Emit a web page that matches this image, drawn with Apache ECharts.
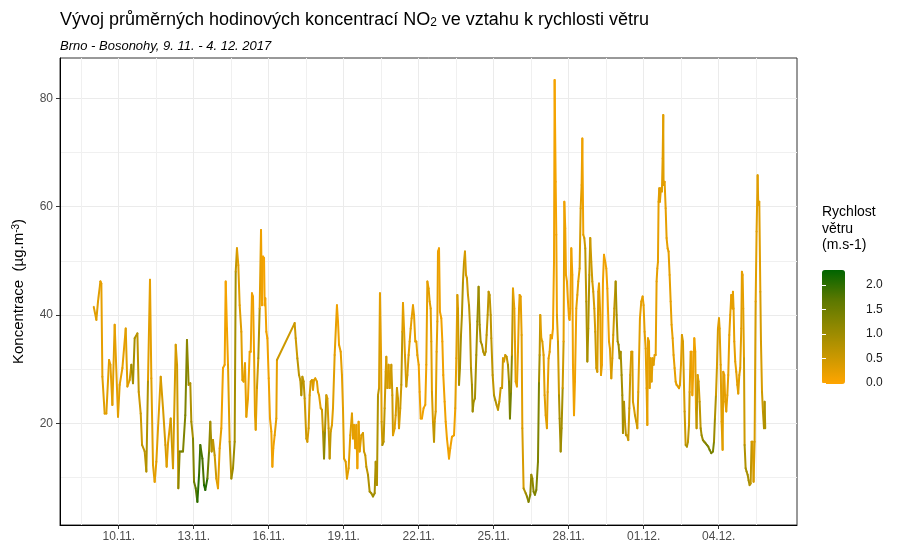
<!DOCTYPE html>
<html><head><meta charset="utf-8">
<script src="https://cdn.jsdelivr.net/npm/echarts@6/dist/echarts.min.js"></script>
<style>html,body{margin:0;padding:0;background:#fff}#c{width:900px;height:550px}</style>
</head><body><div id="c"></div><script>
// hours since 9. 11. 2017 00:00
const startUTC = Date.UTC(2017, 10, 9);
const hours = [
0,2.5,4.1,6.4,7.3,8.3,10.5,12.1,14.7,16,
17.9,20.1,23.3,24.9,27.5,30.7,32.3,34.5,36.1,37.7,
39.3,41.9,43.2,45.1,46.4,48.9,50.5,52.1,54,55.3,
56.9,58.5,60.1,61.7,64.3,66.5,68.8,70,71.3,73.9,
76.1,
78.7,80,81.2,82.5,84.1,85.7,87.9,89.5,91.1,92.7,
93.7,95.3,96.3,97.9,99.5,101.1,102.3,104.3,105.9,107.1,
109.1,110.7,111.9,113.2,114.5,116.1,117.7,119.3,120.9,122.5,
124.1,125.7,126.7,127.9,128.9,130.5,132.1,133.7,135.3,136.3,
137.5,138.8,140.1,141.7,142.7,143.9,145.2,146.5,148.1,149.7,
150.7,151.9,152.9,153.9,154.8,155.5,156.7,158,
159.3,160.6,161.5,162.5,163.5,164.1,164.7,165.7,166.7,168,
169.2,170.5,171.5,172.4,173.7,175.3,175.9,192.9,193.9,195.5,
197.1,198.3,199.3,200.3,201.5,202.5,204.1,205.1,206.3,207.3,
208.3,209.5,210.5,211.5,212.7,214.3,215.3,216.3,217.9,219.1,
220.1,221.1,222,223.3,224.3,225.5,226.5,227.5,228.7,229.7,
231.3,232.6,233.5,234.5,235.5,237.1,238.3,239.3,
240.3,241.9,243.1,244.7,246.3,247.9,248.9,249.9,251.1,252.1,
253.1,254.3,255.3,256.9,258.5,259.5,260.7,261.7,263.3,264.9,
266.5,268.1,269.7,270.7,271.9,272.9,273.9,274.8,275.8,276.4,
277.1,278.3,279.3,280.3,280.9,281.9,283.1,284.1,285.7,286.7,
287.3,288.9,289.9,291.1,292.1,293.1,294.3,295.3,296.3,296.9,
297.9,298.8,300.1,301.1,302.3,303.3,304.3,305.2,306.5,307.5,
308.7,309.7,310.7,312,312.9,313.9,315.1,316.7,318.3,319.3,
320.3,321.5,322.5,
323.5,324.1,324.7,325.7,326.7,327.3,328.3,329.2,329.9,330.5,
331.5,332.4,333.7,334.7,335.6,336.9,337.9,339.1,340.1,341.1,
342.3,343.9,345.9,347.1,348.1,349.1,349.7,350.7,351.6,352.6,
353.5,354.5,355.5,356.4,357.4,358.3,359.3,360.3,361.2,362.2,
363.1,363.8,364.7,366,367.3,368.3,369.5,370.5,371.5,372.7,
374,375.3,376.3,377.2,378.2,379.1,380.1,381.1,381.7,383,
384.3,385.5,386.8,388.1,389.4,390.7,392,392.9,393.9,395.1,
396.4,397.7,398.7,399.6,400.6,401.5,402.5,
403.8,404.4,405.1,406.3,407.3,408.3,408.9,409.9,410.8,411.5,
412.7,414.7,415.9,417.5,419.1,420.1,421.1,422.3,423.6,424.9,
426.5,427.5,428.1,428.7,429.7,430.7,431.9,432.9,433.9,435.1,
435.8,436.7,437.7,438.7,439.9,440.9,441.9,442.5,443.5,444.1,
444.7,445.7,446.7,447.3,448.3,449.2,450.2,451.1,451.8,452.7,
453.4,454.3,455.3,456.3,456.9,457.5,458.5,459.5,460.1,461.1,
462,463.3,464.3,465.2,466.5,467.5,468.4,469.1,470,471,
471.9,472.9,473.9,474.8,475.8,476.7,477.7,478.7,479.6,480.6,
481.5,482.5,483.5,484.4,485.1,
486.3,487,487.9,488.9,489.9,491.1,492.1,493.1,493.7,494.7,
495.6,496.9,497.9,498.8,499.8,501.1,502,503,503.9,504.9,
505.9,506.8,507.5,508.1,509.1,510,511,512,513.2,514.2,
515.1,516.1,517.1,517.7,518.7,519.6,520.9,521.9,522.8,523.5,
524.4,525.7,527,527.9,528.9,529.9,530.8,531.5,532.1,533.1,
533.7,534.7,535.6,536.6,537.5,538.5,539.5,540.4,541.1,541.7,
542.3,543,543.6,544.6,545.5,546.2,546.8,547.1,548.1,549.1,
550,551,551.9,552.9,553.9,554.8,555.8,556.7,557.7,558.7,
559.6,560.9,561.9,562.8,563.8,564.7,565.7,
567.3,568.3,569.5,570.5,571.5,572.1,573.1,574,574.7,575.6,
576.6,577.5,578.2,578.8,579.8,580.7,581.7,582.7,583.6,584.9,
586.2,587.5,588.7,590,591.3,592.9,594.5,595.5,596.4,597.4,
598.3,599.3,600.3,600.9,601.9,602.8,603.8,604.4,605.4,606.3,
607.3,608.3,609.2,610.2,611.1,612.1,613.1,613.7,614.3,615,
615.9,616.9,617.9,618.8,619.8,620.7,621.7,622.3,623,623.6,
624.3,624.9,625.9,626.8,627.8,628.7,629.7,630.7,631.6,632.6,
633.5,634.5,635.5,636.4,637.4,638,639,640,640.6,641.6,
642.5,643.5,644.1,644.7
];
const no2 = [
41.5,39.1,42.5,46.2,45.8,28.6,21.8,21.8,31.7,30.8,
23.4,38.2,21.2,27.1,30.2,37.5,26.8,28.0,30.8,27.4,
35.7,36.6,25.8,21.8,16.0,14.8,11.1,28.0,46.5,28.3,
12.3,9.2,12.9,19.1,28.6,22.8,16.0,12.0,16.3,20.9,
11.7,
34.5,30.8,8.0,14.8,14.8,14.8,21.5,35.4,27.1,27.4,
20.3,17.2,9.2,8.0,5.5,10.5,16.0,13.5,8.6,7.7,
9.8,14.8,20.3,14.8,16.9,14.1,9.8,8.0,15.4,19.1,
30.2,30.8,46.2,37.5,30.8,16.6,9.8,11.7,16.6,48.0,
52.3,49.2,41.8,36.9,28.0,27.7,31.1,21.2,24.6,33.2,
33.2,44.0,43.4,33.2,21.5,18.8,26.5,32.0,
41.2,55.7,41.8,50.8,50.5,41.8,43.1,36.9,35.7,28.3,
20.9,18.5,12.0,15.4,17.8,20.9,31.7,38.5,35.7,32.0,
28.9,28.0,25.2,28.6,27.7,24.6,17.2,16.6,19.1,25.2,
27.7,28.0,26.2,28.0,28.3,27.7,25.8,25.2,22.8,22.5,
18.5,13.5,18.5,25.2,24.6,19.1,13.5,18.5,19.7,22.8,
32.6,38.2,41.8,38.8,34.5,33.2,28.9,22.8,
13.5,12.9,9.8,11.7,17.8,21.8,17.2,19.7,15.4,19.7,
11.7,20.3,14.8,17.8,18.2,14.8,14.1,12.0,10.5,7.4,
7.1,6.5,7.1,12.9,8.6,25.2,26.5,44.0,33.2,20.3,
16.0,16.6,22.8,29.5,32.3,26.5,30.8,26.5,30.8,25.2,
17.8,19.1,21.5,26.5,24.6,19.1,22.8,27.1,36.9,42.2,
37.5,32.6,26.8,28.9,32.6,35.1,37.5,39.4,41.8,40.0,
35.1,35.1,32.6,30.8,25.8,20.9,20.9,22.8,23.4,30.8,
46.2,44.9,42.5,
41.2,35.1,25.8,20.3,16.6,20.3,22.2,33.2,38.8,51.7,
52.3,40.6,39.4,35.1,28.9,24.0,20.3,17.2,15.4,13.5,
15.4,17.5,17.8,22.8,32.0,43.7,41.2,27.1,30.2,36.3,
40.0,46.2,49.8,51.7,47.4,46.8,43.7,41.8,38.2,30.2,
27.1,22.2,24.0,24.6,32.6,38.8,45.2,38.2,35.1,34.5,
33.2,32.6,33.2,36.3,40.0,44.3,43.7,40.0,35.7,28.9,
25.2,24.3,23.4,22.5,24.0,26.5,26.5,32.0,31.4,32.6,
32.3,30.8,27.7,20.9,25.8,32.6,44.9,
41.2,35.1,27.7,26.8,33.2,41.2,43.7,43.4,36.3,19.1,
8.0,7.1,6.5,5.5,6.8,10.5,9.8,7.4,6.8,7.7,
12.9,27.7,32.6,40.0,35.7,35.1,32.6,25.2,21.5,19.1,
25.8,32.0,33.2,36.3,35.7,37.5,49.8,83.4,64.6,54.8,
40.0,35.1,25.2,20.9,14.8,19.1,26.5,35.1,60.9,56.0,
47.4,46.2,42.5,39.4,39.1,41.2,52.3,47.4,30.8,21.5,
27.7,41.2,43.7,46.2,48.6,59.7,64.0,72.6,54.8,54.2,
52.3,42.5,31.4,37.5,47.4,54.2,49.8,46.2,44.3,41.2,
36.9,30.2,29.5,44.3,45.8,
40.0,28.9,30.8,46.2,51.1,49.8,48.6,44.9,41.2,35.1,
33.8,28.3,32.0,36.3,41.2,46.2,40.0,35.1,34.5,32.0,
33.2,28.9,25.2,18.2,24.0,20.3,17.8,17.8,16.9,22.8,
28.9,33.2,33.2,24.0,22.8,21.5,20.3,19.1,25.8,31.4,
39.4,42.5,43.4,41.8,36.9,33.8,26.5,19.7,35.7,35.1,
26.5,32.0,27.7,32.0,30.8,32.6,32.6,46.2,48.6,49.8,
60.9,63.4,60.9,63.4,62.8,68.9,76.9,64.0,64.6,59.7,
54.2,52.3,51.7,47.4,42.5,38.2,35.7,32.6,30.2,27.7,
27.1,26.8,26.5,27.1,30.8,36.3,35.1,
22.2,16.0,15.7,16.6,19.7,25.8,33.2,33.2,25.2,29.5,
35.7,33.2,22.8,19.1,28.9,27.7,24.0,19.1,17.8,16.9,
16.6,16.3,16.0,15.7,15.1,14.5,14.8,16.6,20.9,25.2,
30.2,37.5,39.4,37.5,30.8,20.3,15.1,29.5,28.9,24.0,
22.2,25.2,28.9,36.3,40.0,43.7,41.2,44.3,41.2,35.1,
31.4,29.5,27.1,25.5,28.9,30.2,37.5,48.0,47.4,41.2,
32.0,16.0,11.7,11.1,10.5,9.5,8.6,8.9,16.6,16.6,
9.2,16.6,42.5,55.4,65.8,60.3,60.9,44.3,35.1,25.8,
22.2,19.1,24.0,19.1
];
const wind = [
0.3,0.3,0.3,0.25,0.25,0.3,0.3,0.3,0.25,0.25,
0.3,0.25,0.3,0.25,0.25,0.3,0.3,0.5,1.0,0.9,
0.8,0.65,0.5,0.5,0.65,0.65,0.8,0.3,0.25,0.3,
0.3,0.25,0.3,0.3,0.4,0.4,0.4,0.3,0.3,0.5,
0.4,
0.4,0.5,1.15,1.4,1.4,1.3,1.3,1.15,0.8,0.8,
0.9,1.3,1.5,1.7,2.0,1.9,1.8,1.8,2.1,2.0,
1.5,1.15,0.9,0.65,0.65,0.5,0.3,0.25,0.25,0.15,
0.15,0.15,0.1,0.15,0.3,0.65,1.0,1.0,0.9,0.65,
0.3,0.3,0.3,0.3,0.3,0.25,0.25,0.25,0.15,0.15,
0.15,0.15,0.15,0.25,0.25,0.3,0.5,0.8,
0.3,0.15,0.15,0.1,0.1,0.15,0.15,0.15,0.15,0.15,
0.15,0.15,0.15,0.15,0.25,0.25,0.5,0.5,0.5,0.65,
0.65,0.65,0.8,0.65,0.65,0.5,0.5,0.4,0.4,0.4,
0.4,0.4,0.3,0.3,0.3,0.3,0.3,0.3,0.4,0.5,
0.8,1.15,0.8,0.4,0.4,0.5,0.65,0.4,0.3,0.3,
0.25,0.25,0.15,0.15,0.25,0.25,0.25,0.3,
0.3,0.3,0.3,0.3,0.3,0.3,0.25,0.25,0.25,0.25,
0.15,0.25,0.3,0.4,0.4,0.5,0.5,0.65,0.8,0.9,
0.9,1.0,0.9,0.8,0.8,0.65,0.4,0.25,0.3,0.5,
0.8,0.65,0.5,0.4,0.4,0.4,0.4,0.4,0.5,0.5,
0.3,0.3,0.4,0.5,0.5,0.4,0.5,0.65,0.4,0.25,
0.3,0.4,0.5,0.4,0.3,0.3,0.25,0.25,0.25,0.25,
0.25,0.25,0.25,0.15,0.15,0.15,0.15,0.15,0.15,0.25,
0.25,0.3,0.3,
0.3,0.3,0.4,0.5,0.65,0.4,0.3,0.25,0.25,0.15,
0.15,0.15,0.15,0.15,0.15,0.15,0.15,0.15,0.15,0.15,
0.15,0.15,0.15,0.25,0.3,0.4,0.5,0.9,0.9,0.8,
0.8,0.65,0.5,0.4,0.4,0.5,0.5,0.65,0.65,0.8,
0.9,1.0,0.9,0.9,0.9,1.0,1.0,0.9,0.9,0.8,
0.8,0.8,0.65,0.65,0.65,0.65,0.65,0.65,0.65,0.65,
0.8,0.8,0.65,0.65,0.5,0.5,0.5,0.4,0.4,0.5,
0.65,0.9,1.15,1.4,1.15,0.65,0.25,
0.25,0.25,0.25,0.25,0.25,0.25,0.25,0.25,0.3,0.4,
0.8,1.0,1.15,1.3,1.15,1.0,1.15,1.3,1.3,1.3,
1.3,0.9,0.65,0.3,0.3,0.3,0.3,0.3,0.3,0.3,
0.25,0.25,0.25,0.15,0.15,0.15,0.15,0.1,0.1,0.15,
0.3,0.5,0.8,0.9,1.0,0.9,0.5,0.25,0.15,0.15,
0.15,0.15,0.15,0.15,0.15,0.15,0.15,0.15,0.15,0.15,
0.15,0.25,0.3,0.3,0.4,0.3,0.25,0.15,0.3,0.5,
0.65,0.8,0.9,0.8,0.65,0.5,0.5,0.4,0.4,0.4,
0.5,0.5,0.4,0.25,0.25,
0.25,0.25,0.15,0.15,0.15,0.15,0.15,0.15,0.15,0.25,
0.3,0.4,0.4,0.5,0.65,0.9,0.9,0.9,1.0,1.0,
0.9,0.9,0.9,0.9,0.8,0.65,0.65,0.65,0.5,0.5,
0.4,0.4,0.4,0.4,0.4,0.5,0.5,0.4,0.3,0.3,
0.25,0.25,0.25,0.25,0.25,0.25,0.25,0.25,0.25,0.25,
0.3,0.3,0.3,0.3,0.3,0.25,0.25,0.25,0.25,0.25,
0.3,0.3,0.3,0.3,0.3,0.3,0.3,0.3,0.25,0.25,
0.25,0.25,0.25,0.25,0.25,0.25,0.25,0.25,0.25,0.25,
0.25,0.3,0.3,0.3,0.3,0.4,0.4,
0.5,0.8,0.8,0.65,0.5,0.3,0.15,0.15,0.15,0.15,
0.15,0.25,0.4,0.65,0.3,0.4,0.65,0.9,1.0,1.15,
1.15,1.3,1.3,1.3,1.4,1.4,1.3,1.0,0.8,0.5,
0.4,0.3,0.3,0.3,0.3,0.3,0.3,0.25,0.25,0.25,
0.25,0.25,0.25,0.25,0.25,0.25,0.25,0.25,0.25,0.25,
0.25,0.25,0.3,0.3,0.3,0.3,0.3,0.25,0.25,0.3,
0.5,0.8,0.9,0.9,0.9,0.9,0.8,0.65,0.4,0.4,
0.4,0.4,0.3,0.3,0.3,0.3,0.3,0.4,0.4,0.5,
0.65,0.8,0.8,0.8
];
const xTickLabels = ['10.11.','13.11.','16.11.','19.11.','22.11.','25.11.','28.11.','01.12.','04.12.'];
const yTicks = [20, 40, 60, 80];
const yMinorTicks = [10, 30, 50, 70];
const windTicks = [0, 0.5, 1, 1.5, 2];

const FONT = 'Liberation Sans, Arial, sans-serif';
function labelToHour(lbl) {
  const p = lbl.split('.');
  return (Date.UTC(2017, +p[1] - 1, +p[0]) - startUTC) / 3600000;
}
const xTickHours = xTickLabels.map(labelToHour);
const xMinorHours = [xTickHours[0] - 36].concat(xTickHours.map(h => h + 36));

const segData = hours.map((h, i) => {
  const j = Math.min(i + 1, hours.length - 1);
  return [h, no2[i], wind[i], hours[j], no2[j]];
});

const chart = echarts.init(document.getElementById('c'), null, {renderer: 'canvas'});
const xMin = -32.4, xMax = 675.2, yMin = 1.23, yMax = 87.44;
chart.setOption({
  animation: false,
  backgroundColor: '#fff',
  textStyle: {fontFamily: FONT},
  title: [
    {left: 55, top: 6, text: 'Vývoj průměrných hodinových koncentrací NO{sub|2} ve vztahu k rychlosti větru',
     textStyle: {fontFamily: FONT, fontSize: 18, fontWeight: 'normal', color: '#000',
       rich: {sub: {fontFamily: FONT, fontSize: 12, color: '#000', verticalAlign: 'bottom', lineHeight: 12}}}},
    {left: 55, top: 35, text: 'Brno - Bosonohy, 9. 11. - 4. 12. 2017',
     textStyle: {fontFamily: FONT, fontSize: 13, fontStyle: 'italic', fontWeight: 'normal', color: '#000'}},
    {left: 817, top: 199, text: 'Rychlost\nvětru\n(m.s-1)',
     textStyle: {fontFamily: FONT, fontSize: 14, lineHeight: 16.5, fontWeight: 'normal', color: '#000'}}
  ],
  grid: [
    {left: 60, right: 103, top: 58, bottom: 25, show: true, borderColor: '#333', borderWidth: 1},
    {left: 822, top: 275, width: 23, height: 108}
  ],
  xAxis: [
    {type: 'value', gridIndex: 0, min: xMin, max: xMax,
     axisLine: {show: true, onZero: false, lineStyle: {color: '#000', width: 1}},
     axisTick: {show: true, customValues: xTickHours, length: 4, lineStyle: {color: '#333'}},
     axisLabel: {customValues: xTickHours, color: '#4D4D4D', fontSize: 12, fontFamily: FONT, margin: 6,
       formatter: v => { const k = xTickHours.findIndex(h => Math.abs(h - v) < 0.01); return k >= 0 ? xTickLabels[k] : ''; }},
     splitLine: {show: true, lineStyle: {color: '#EBEBEB', width: 1}}},
    {type: 'value', gridIndex: 0, min: xMin, max: xMax, position: 'top',
     axisLine: {show: false}, axisLabel: {show: false},
     axisTick: {show: false, customValues: xMinorHours},
     splitLine: {show: true, lineStyle: {color: '#F0F0F0', width: 1}}},
    {type: 'value', gridIndex: 1, min: 0, max: 1, show: false}
  ],
  yAxis: [
    {type: 'value', gridIndex: 0, min: yMin, max: yMax,
     name: 'Koncentrace  (µg.m{sup|-3})', nameLocation: 'middle', nameGap: 34,
     nameTextStyle: {fontFamily: FONT, fontSize: 15, color: '#000',
       rich: {sup: {fontFamily: FONT, fontSize: 10, color: '#000', verticalAlign: 'top'}}},
     axisLine: {show: true, onZero: false, lineStyle: {color: '#000', width: 1}},
     axisTick: {show: true, customValues: yTicks, length: 4, lineStyle: {color: '#333'}},
     axisLabel: {customValues: yTicks, color: '#4D4D4D', fontSize: 12, fontFamily: FONT, margin: 7},
     splitLine: {show: true, lineStyle: {color: '#EBEBEB', width: 1}}},
    {type: 'value', gridIndex: 0, min: yMin, max: yMax, position: 'right',
     axisLine: {show: false}, axisLabel: {show: false},
     axisTick: {show: false, customValues: yMinorTicks},
     splitLine: {show: true, lineStyle: {color: '#F0F0F0', width: 1}}},
    {type: 'value', gridIndex: 1, min: 0, max: 2.2, position: 'right', z: 10,
     axisLine: {show: false}, splitLine: {show: false},
     axisTick: {show: true, inside: true, length: 4, customValues: windTicks, lineStyle: {color: '#fff', width: 1}},
     axisLabel: {customValues: windTicks, margin: 21, color: '#1A1A1A', fontSize: 12, fontFamily: FONT,
       formatter: v => v.toFixed(1)}},
    {type: 'value', gridIndex: 1, min: 0, max: 2.2, position: 'left', z: 10,
     axisLine: {show: false}, splitLine: {show: false}, axisLabel: {show: false},
     axisTick: {show: true, inside: true, length: 4, customValues: windTicks, lineStyle: {color: '#fff', width: 1}}}
  ],
  visualMap: [{
    type: 'continuous', min: 0, max: 2.26, dimension: 2, seriesIndex: 0,
    calculable: false, hoverLink: false, realtime: false,
    orient: 'vertical', left: 817, top: 265, padding: 5,
    itemWidth: 23, itemHeight: 114,
    inRange: {color: ['#FFA500', '#C79700', '#908800', '#587700', '#006400']}
  }],
  series: [{
    type: 'custom', xAxisIndex: 0, yAxisIndex: 0, silent: true, clip: true,
    encode: {x: [0, 3], y: [1, 4]},
    data: segData,
    renderItem: function (params, api) {
      if (params.dataIndex >= hours.length - 1) return null;
      const p0 = api.coord([api.value(0), api.value(1)]);
      const p1 = api.coord([api.value(3), api.value(4)]);
      return {type: 'line', shape: {x1: p0[0], y1: p0[1], x2: p1[0], y2: p1[1]},
        style: {stroke: api.visual('color'), lineWidth: 2, lineCap: 'round'}};
    }
  }]
});
</script></body></html>
